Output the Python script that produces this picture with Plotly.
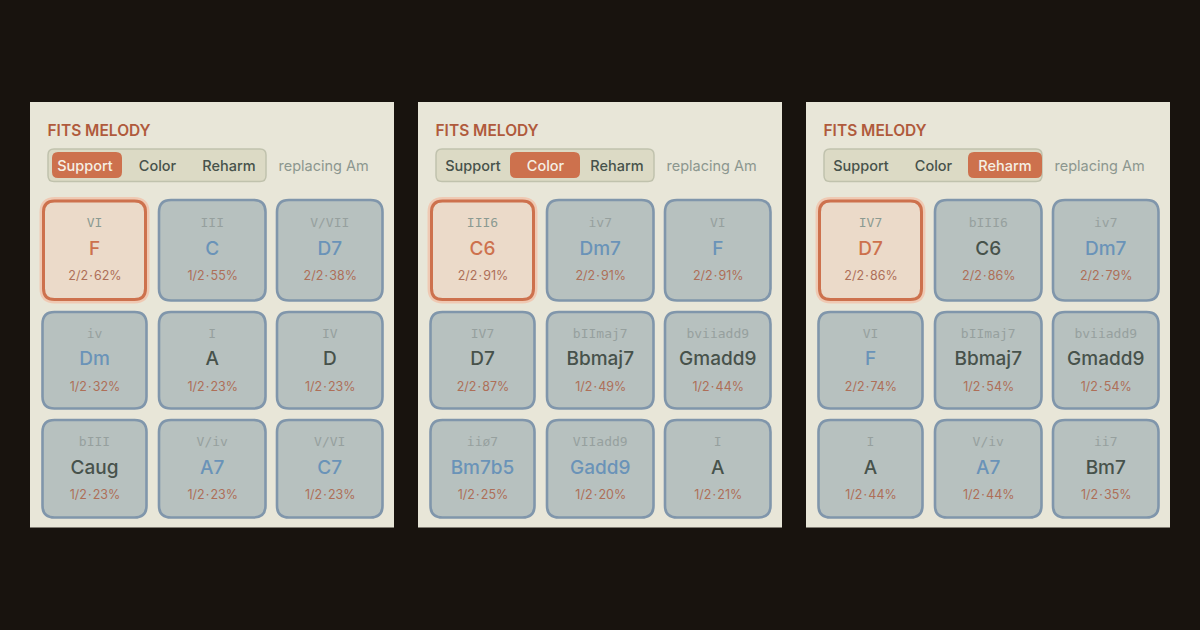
import plotly.graph_objects as go

# ---- data ----
MODES = ["Support", "Color", "Reharm"]
TITLE = "FITS MELODY"
REPLACING = "replacing Am"
numerals = [
    ["VI", "III", "V/VII", "iv", "I", "IV", "bIII", "V/iv", "V/VI"],
    ["III6", "iv7", "VI", "IV7", "bIImaj7", "bviiadd9", "iiø7", "VIIadd9", "I"],
    ["IV7", "bIII6", "iv7", "VI", "bIImaj7", "bviiadd9", "I", "V/iv", "ii7"],
]
chords = [
    ["F", "C", "D7", "Dm", "A", "D", "Caug", "A7", "C7"],
    ["C6", "Dm7", "F", "D7", "Bbmaj7", "Gmadd9", "Bm7b5", "Gadd9", "A"],
    ["D7", "C6", "Dm7", "F", "Bbmaj7", "Gmadd9", "A", "A7", "Bm7"],
]
fits = [
    ["2/2", "1/2", "2/2", "1/2", "1/2", "1/2", "1/2", "1/2", "1/2"],
    ["2/2", "2/2", "2/2", "2/2", "1/2", "1/2", "1/2", "1/2", "1/2"],
    ["2/2", "2/2", "2/2", "2/2", "1/2", "1/2", "1/2", "1/2", "1/2"],
]
percents = [
    [62, 55, 38, 32, 23, 23, 23, 23, 23],
    [91, 91, 91, 87, 49, 44, 25, 20, 21],
    [86, 86, 79, 74, 54, 54, 44, 44, 35],
]
# 'b' = blue chord name, 'd' = dark chord name, 's' = selected
kinds = [
    ["s", "b", "b", "b", "d", "d", "d", "b", "b"],
    ["s", "b", "b", "d", "d", "d", "b", "b", "d"],
    ["s", "d", "b", "b", "d", "d", "d", "b", "d"],
]

# ---- layout constants ----
BG = "#18130e"; PANEL = "#e8e6d8"; ACC = "#cd714d"; TITLEC = "#b05a3c"
CELL = "#b7c1bf"; CELLB = "#8096ab"; SEL = "#ebdac9"; BLUE = "#6a93b8"; DARK = "#47524b"
FITC = "#ae6f58"; NUMC = "#96a09e"; SANS = "Inter, 'Noto Sans', sans-serif"; MONO = "'DejaVu Sans Mono', monospace"
PX = [30, 418, 806]
COLS = [(13, 116), (129.5, 235), (247.5, 352)]
ROWS = [(200.5, 300), (312.5, 408), (420.5, 517)]
NUM_Y = [224, 335, 442.5]; CH_Y = [250, 360, 469]; FIT_Y = [276.5, 387.5, 495.5]
MODE_X = [55, 127.5, 199]
PILLS = [(22, 92), (92, 162), (162, 236)]


def rr(x0, y0, x1, y1, r):
    return (f"M{x0+r},{y0} L{x1-r},{y0} Q{x1},{y0} {x1},{y0+r} L{x1},{y1-r} Q{x1},{y1} {x1-r},{y1} "
            f"L{x0+r},{y1} Q{x0},{y1} {x0},{y1-r} L{x0},{y0+r} Q{x0},{y0} {x0+r},{y0} Z")


def box(x0, y0, x1, y1, r, fill, line="rgba(0,0,0,0)", w=0):
    return dict(type="path", path=rr(x0, y0, x1, y1, r), fillcolor=fill,
                line=dict(color=line, width=w), xref="x", yref="y", layer="below")


shapes = []
fig = go.Figure()


def texts(xs, ys, labels, colors, size, family=SANS, pos="middle center", weight=None):
    font = dict(size=size, family=family, color=colors)
    if weight:
        font["weight"] = weight
    fig.add_trace(go.Scatter(x=xs, y=ys, text=labels, mode="text", textposition=pos,
                             textfont=font, hoverinfo="skip", showlegend=False, cliponaxis=False))


for p, ox in enumerate(PX):
    shapes.append(box(ox, 102, ox + 364, 527.5, 0, PANEL))
    shapes.append(box(ox + 18, 149, ox + 236, 181.5, 6, "#dcdac5", "#c0c2ad", 1.5))
    a, b = PILLS[p]
    shapes.append(box(ox + a, 152, ox + b, 178, 6, ACC))
    texts([ox + 17.5], [132], [TITLE], [TITLEC], 15.5, pos="middle right", weight=600)
    texts([ox + x for x in MODE_X], [167.5] * 3, MODES,
          ["#f5efe4" if i == p else DARK for i in range(3)], 14.5, weight=500)
    texts([ox + 248.5], [167.5], [REPLACING], ["#8c978f"], 14.5, pos="middle right")
    xs, nc, chc = [], [], []
    for i in range(9):
        r, c = divmod(i, 3)
        x0, x1 = COLS[c]; y0, y1 = ROWS[r]
        k = kinds[p][i]
        if k == "s":
            shapes.append(box(ox + x0 - 1, y0 - 1, ox + x1 + 1, y1 + 1, 13, SEL, "#efc9b3", 5))
            shapes.append(box(ox + x0 + .5, y0 + .5, ox + x1 - .5, y1 - .5, 11, SEL, ACC, 3))
        else:
            shapes.append(box(ox + x0 - 0.5, y0 - .5, ox + x1 + .5, y1 + .5, 12, CELL, CELLB, 2.6))
        xs.append(ox + (x0 + x1) / 2)
        chc.append(ACC if k == "s" else BLUE if k == "b" else DARK)
        nc.append("#8c9a92" if k == "s" else NUMC)
    rows = [divmod(i, 3)[0] for i in range(9)]
    texts(xs, [NUM_Y[r] for r in rows], numerals[p], nc, 13, family=MONO)
    texts(xs, [CH_Y[r] for r in rows], chords[p], chc, 19, weight=500)
    texts([x + .5 for x in xs], [FIT_Y[r] for r in rows],
          [f"{f}\u200a·\u200a{v}%" for f, v in zip(fits[p], percents[p])], [FITC] * 9, 12.5)

fig.update_layout(
    width=1200, height=630, margin=dict(l=0, r=0, t=0, b=0),
    paper_bgcolor=BG, plot_bgcolor=BG, shapes=shapes,
    xaxis=dict(range=[0, 1200], visible=False, fixedrange=True),
    yaxis=dict(range=[630, 0], visible=False, fixedrange=True),
)
fig.write_html("out.html", config={"displayModeBar": False},
               post_script="document.body.style.margin='0';document.body.style.background='#18130e';")
